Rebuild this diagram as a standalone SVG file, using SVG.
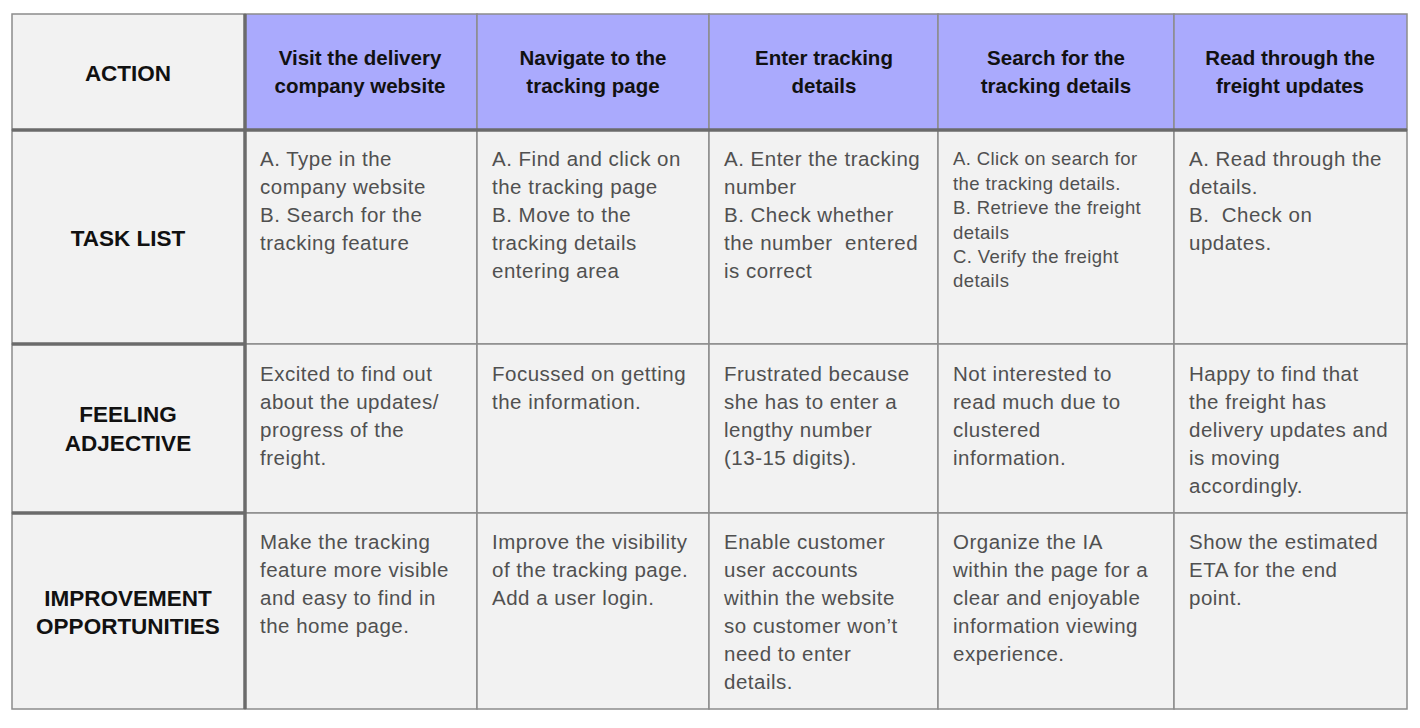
<svg xmlns="http://www.w3.org/2000/svg" width="1420" height="728" viewBox="0 0 1420 728">
<style>
.cell{fill:#f2f2f2;stroke:#8c8c8c;stroke-width:1.5}
.head{fill:#aaaafd;stroke:#8c8c8c;stroke-width:1.5}
.thick{stroke:#6b6b6b;stroke-width:3.5;fill:none}
.hl{font-family:"Liberation Sans",Arial,sans-serif;font-weight:bold;font-size:20.5px;fill:#111;text-anchor:middle}
.lab{font-family:"Liberation Sans",Arial,sans-serif;font-weight:bold;font-size:22.5px;fill:#111;text-anchor:middle}
.b{font-family:"Liberation Sans",Arial,sans-serif;font-size:20.5px;letter-spacing:0.5px;fill:#505050}
.s{font-family:"Liberation Sans",Arial,sans-serif;font-size:18.5px;letter-spacing:0.4px;fill:#505050}
</style>
<rect width="1420" height="728" fill="#ffffff"/>

<g id="header-row">
  <rect class="cell" x="12" y="14" width="233" height="116"/>
  <rect class="head" x="245" y="14" width="232" height="116"/>
  <rect class="head" x="477" y="14" width="232" height="116"/>
  <rect class="head" x="709" y="14" width="229" height="116"/>
  <rect class="head" x="938" y="14" width="236" height="116"/>
  <rect class="head" x="1174" y="14" width="233" height="116"/>
  <text class="lab" x="128" y="81">ACTION</text>
  <text class="hl" x="360" y="65">Visit the delivery</text>
  <text class="hl" x="360" y="93">company website</text>
  <text class="hl" x="593" y="65">Navigate to the</text>
  <text class="hl" x="593" y="93">tracking page</text>
  <text class="hl" x="824" y="65">Enter tracking</text>
  <text class="hl" x="824" y="93">details</text>
  <text class="hl" x="1056" y="65">Search for the</text>
  <text class="hl" x="1056" y="93">tracking details</text>
  <text class="hl" x="1290" y="65">Read through the</text>
  <text class="hl" x="1290" y="93">freight updates</text>
</g>

<g id="task-row">
  <rect class="cell" x="12" y="130" width="233" height="214"/>
  <rect class="cell" x="245" y="130" width="232" height="214"/>
  <rect class="cell" x="477" y="130" width="232" height="214"/>
  <rect class="cell" x="709" y="130" width="229" height="214"/>
  <rect class="cell" x="938" y="130" width="236" height="214"/>
  <rect class="cell" x="1174" y="130" width="233" height="214"/>
  <text class="lab" x="128" y="246">TASK LIST</text>
  <text class="b" x="260" y="166">A. Type in the</text>
  <text class="b" x="260" y="194">company website</text>
  <text class="b" x="260" y="222">B. Search for the</text>
  <text class="b" x="260" y="250">tracking feature</text>
  <text class="b" x="492" y="166">A. Find and click on</text>
  <text class="b" x="492" y="194">the tracking page</text>
  <text class="b" x="492" y="222">B. Move to the</text>
  <text class="b" x="492" y="250">tracking details</text>
  <text class="b" x="492" y="278">entering area</text>
  <text class="b" x="724" y="166">A. Enter the tracking</text>
  <text class="b" x="724" y="194">number</text>
  <text class="b" x="724" y="222">B. Check whether</text>
  <text class="b" x="724" y="250" xml:space="preserve">the number  entered</text>
  <text class="b" x="724" y="278">is correct</text>
  <text class="s" x="953" y="165">A. Click on search for</text>
  <text class="s" x="953" y="190">the tracking details.</text>
  <text class="s" x="953" y="214">B. Retrieve the freight</text>
  <text class="s" x="953" y="239">details</text>
  <text class="s" x="953" y="263">C. Verify the freight</text>
  <text class="s" x="953" y="287">details</text>
  <text class="b" x="1189" y="166">A. Read through the</text>
  <text class="b" x="1189" y="194">details.</text>
  <text class="b" x="1189" y="222" xml:space="preserve">B.  Check on</text>
  <text class="b" x="1189" y="250">updates.</text>
</g>

<g id="feeling-row">
  <rect class="cell" x="12" y="344" width="233" height="169"/>
  <rect class="cell" x="245" y="344" width="232" height="169"/>
  <rect class="cell" x="477" y="344" width="232" height="169"/>
  <rect class="cell" x="709" y="344" width="229" height="169"/>
  <rect class="cell" x="938" y="344" width="236" height="169"/>
  <rect class="cell" x="1174" y="344" width="233" height="169"/>
  <text class="lab" x="128" y="422">FEELING</text>
  <text class="lab" x="128" y="451">ADJECTIVE</text>
  <text class="b" x="260" y="381">Excited to find out</text>
  <text class="b" x="260" y="409">about the updates/</text>
  <text class="b" x="260" y="437">progress of the</text>
  <text class="b" x="260" y="465">freight.</text>
  <text class="b" x="492" y="381">Focussed on getting</text>
  <text class="b" x="492" y="409">the information.</text>
  <text class="b" x="724" y="381">Frustrated because</text>
  <text class="b" x="724" y="409">she has to enter a</text>
  <text class="b" x="724" y="437">lengthy number</text>
  <text class="b" x="724" y="465">(13-15 digits).</text>
  <text class="b" x="953" y="381">Not interested to</text>
  <text class="b" x="953" y="409">read much due to</text>
  <text class="b" x="953" y="437">clustered</text>
  <text class="b" x="953" y="465">information.</text>
  <text class="b" x="1189" y="381">Happy to find that</text>
  <text class="b" x="1189" y="409">the freight has</text>
  <text class="b" x="1189" y="437">delivery updates and</text>
  <text class="b" x="1189" y="465">is moving</text>
  <text class="b" x="1189" y="493">accordingly.</text>
</g>

<g id="improvement-row">
  <rect class="cell" x="12" y="513" width="233" height="196"/>
  <rect class="cell" x="245" y="513" width="232" height="196"/>
  <rect class="cell" x="477" y="513" width="232" height="196"/>
  <rect class="cell" x="709" y="513" width="229" height="196"/>
  <rect class="cell" x="938" y="513" width="236" height="196"/>
  <rect class="cell" x="1174" y="513" width="233" height="196"/>
  <text class="lab" x="128" y="606">IMPROVEMENT</text>
  <text class="lab" x="128" y="634">OPPORTUNITIES</text>
  <text class="b" x="260" y="549">Make the tracking</text>
  <text class="b" x="260" y="577">feature more visible</text>
  <text class="b" x="260" y="605">and easy to find in</text>
  <text class="b" x="260" y="633">the home page.</text>
  <text class="b" x="492" y="549">Improve the visibility</text>
  <text class="b" x="492" y="577">of the tracking page.</text>
  <text class="b" x="492" y="605">Add a user login.</text>
  <text class="b" x="724" y="549">Enable customer</text>
  <text class="b" x="724" y="577">user accounts</text>
  <text class="b" x="724" y="605">within the website</text>
  <text class="b" x="724" y="633">so customer won’t</text>
  <text class="b" x="724" y="661">need to enter</text>
  <text class="b" x="724" y="689">details.</text>
  <text class="b" x="953" y="549">Organize the IA</text>
  <text class="b" x="953" y="577">within the page for a</text>
  <text class="b" x="953" y="605">clear and enjoyable</text>
  <text class="b" x="953" y="633">information viewing</text>
  <text class="b" x="953" y="661">experience.</text>
  <text class="b" x="1189" y="549">Show the estimated</text>
  <text class="b" x="1189" y="577">ETA for the end</text>
  <text class="b" x="1189" y="605">point.</text>
</g>

<g id="separators">
  <line class="thick" x1="245" y1="14" x2="245" y2="709"/>
  <line class="thick" x1="12" y1="130" x2="1407" y2="130"/>
  <line class="thick" x1="12" y1="344" x2="245" y2="344"/>
  <line class="thick" x1="12" y1="513" x2="245" y2="513"/>
</g>
</svg>
